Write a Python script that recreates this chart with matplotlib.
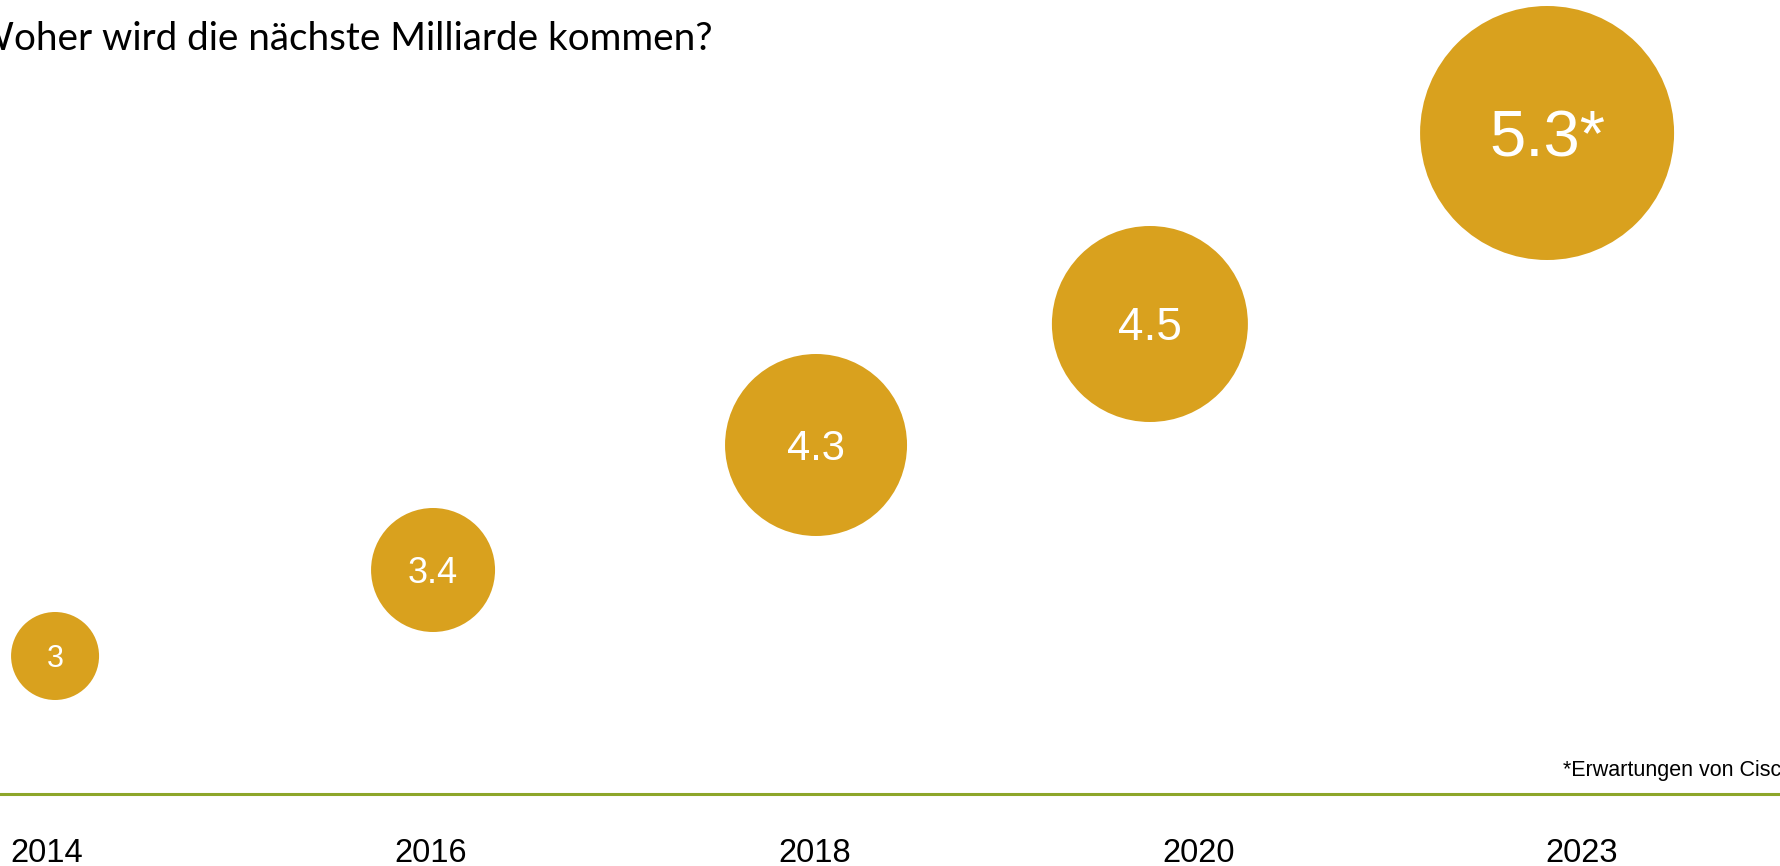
import matplotlib
matplotlib.use("Agg")
import matplotlib.pyplot as plt

# Datos
years  = ["2014", "2016", "2018", "2020", "2023"]
values = [3, 3.4, 4.3, 4.5, 5.3]
labels = ["3", "3.4", "4.3", "4.5", "5.3*"]

title    = "Woher wird die nächste Milliarde kommen?"
footnote = "*Erwartungen von Cisco"

# Layout (pixels on a 1780x866 canvas)
W, H = 1780, 866
x0, step = 47, 383.75                               # year label positions
x_shift  = [0.021, 0.006, 0.004, -0.126, -0.091]    # circle offset vs. year
heights  = [210, 296, 421, 542, 733]                # circle centre, from bottom
radii    = [44, 62, 91, 98, 127]
label_pt = [22, 26, 30, 33, 47]

GOLD  = "#D9A11E"
GREEN = "#8DA62A"

fig = plt.figure(figsize=(W / 100, H / 100), dpi=100)
ax = fig.add_axes([0, 0, 1, 1])
ax.set_xlim(-x0 / step, (W - x0) / step)
ax.set_ylim(0, H)
ax.axis("off")

xs = [i + dx for i, dx in enumerate(x_shift)]
sizes = [(2 * r * 0.72) ** 2 for r in radii]
ax.scatter(xs, heights, s=sizes, color=GOLD, linewidths=0, zorder=2)

for x, y, lab, fs in zip(xs, heights, labels, label_pt):
    cap = 0.716 * fs * 100 / 72
    ax.text(x, y - cap / 2, lab, ha="center", va="baseline", color="white",
            fontsize=fs, family="Liberation Sans", zorder=3)

# linea verde y años
ax.axhline(H - 794, color=GREEN, linewidth=2.2)
for i, yr in enumerate(years):
    ax.text(i, 4, yr, ha="center", va="baseline", fontsize=23.5,
            family="Liberation Sans", color="black")

ax.text((1563 - x0) / step, H - 776, footnote, ha="left", va="baseline",
        fontsize=15.5, family="Liberation Sans", color="black")

fig.text(713 / W, 1 - 50 / H, title, ha="right", va="baseline",
         fontsize=27.8, family="Lato", color="black")

fig.savefig("out.png", dpi=100)
